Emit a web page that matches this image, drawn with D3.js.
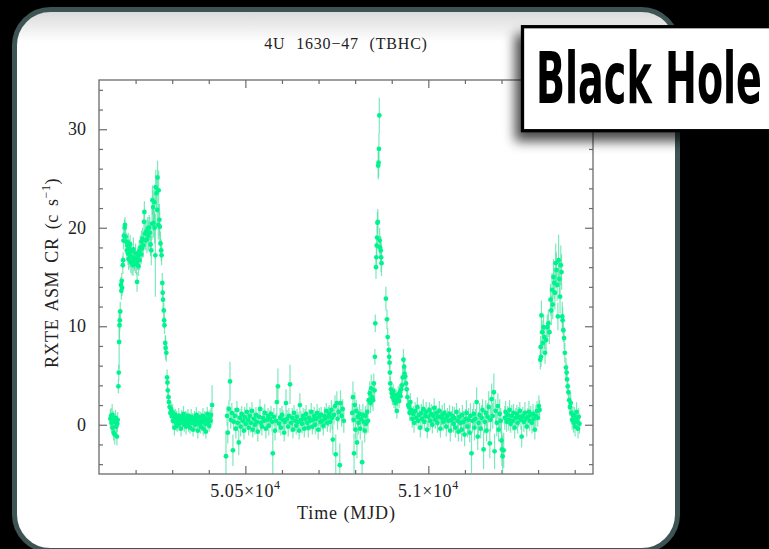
<!DOCTYPE html>
<html>
<head>
<meta charset="utf-8">
<script src="https://cdn.jsdelivr.net/npm/d3@7"></script>
<style>
  html, body { margin: 0; padding: 0; background: #000; }
  svg { display: block; }
</style>
</head>
<body>
<svg id="chart" width="769" height="549"></svg>
<script>
// RXTE ASM light curve of 4U 1630-47, points are [MJD, rate, error]
const quietEarly = [
  [50131,0.6,1.0],[50133,0.9,0.8],[50134,0.2,0.9],[50136,1.0,1.1],[50137,-0.3,0.8],
  [50139,0.5,0.9],[50140,-0.8,0.8],[50142,0.3,0.9],[50143,-1.0,1.0],[50145,0.7,0.8],
  [50146,0.4,0.7],[50147,-0.2,1.1],[50149,-1.2,0.9],[50150,0.1,0.8],[50151,0.5,0.8]
];
const burst1 = [
  [50153,3.9,0.7],[50154,5.3,0.8],[50155,8.4,2.8],[50156,10.1,1.4],[50157,10.6,1.0],
  [50158,11.5,1.0],[50160,14.2,0.8],[50161,13.6,0.9],[50162,14.6,0.8],[50163,13.9,0.8],
  [50165,16.2,0.9],[50166,16.7,0.8],[50167,18.7,0.9],[50168,19.2,0.8],[50170,20.0,0.9],
  [50171,20.3,0.8],[50173,19.1,1.0],[50174,18.6,0.9],[50176,17.7,0.9],[50177,18.2,1.0],
  [50179,17.4,1.2],[50180,18.5,1.0],[50181,16.8,1.1],[50183,17.9,0.9],[50184,17.2,1.3],
  [50185,18.3,1.0],[50187,16.5,1.1],[50188,17.6,1.0],[50190,16.4,1.2],[50191,17.0,1.0],
  [50193,16.2,1.1],[50194,17.8,1.2],[50196,16.6,1.0],[50197,16.9,1.1],[50199,16.3,0.9],
  [50200,17.4,1.0],[50202,16.4,1.2],[50204,14.5,1.0],[50205,16.8,1.1],[50207,17.2,0.9],
  [50208,16.1,1.0],[50210,17.6,1.1],[50211,16.7,1.0],[50213,18.0,1.2],[50215,17.3,1.0],
  [50216,18.6,1.1],[50218,17.9,1.0],[50219,18.9,1.1],[50221,18.2,1.2],[50223,20.6,1.0],
  [50224,21.6,1.1],[50226,19.4,1.3],[50227,18.7,1.0],[50229,19.6,1.2],[50231,18.8,1.4],
  [50233,19.9,1.2],[50235,19.2,1.5],[50237,20.0,1.3],[50239,19.5,1.6],[50241,18.3,1.2],
  [50243,17.7,1.5],[50245,20.4,1.6],[50246,22.8,1.5],[50248,22.1,1.7],[50249,20.5,1.5],
  [50251,22.6,1.8],[50252,20.0,1.6],[50254,17.2,4.2],[50255,24.1,1.8],[50257,23.5,1.6],
  [50259,21.8,1.7],[50260,25.1,1.7],[50262,20.3,1.5],[50263,23.8,2.0],[50265,20.8,1.6],
  [50266,20.1,1.5],[50268,18.4,1.2],[50270,17.7,1.1],[50271,17.2,1.0],[50273,14.4,1.0],
  [50274,13.4,0.9],[50275,12.7,0.9],[50277,11.6,0.8],[50278,10.6,0.8],[50279,10.1,0.9],
  [50281,8.3,0.8],[50282,7.8,1.2],[50284,7.3,0.9],[50286,4.8,0.8],[50287,4.3,0.7],
  [50288,3.5,0.7],[50290,2.8,0.7],[50291,2.3,0.6],[50293,1.8,0.7],[50295,1.2,0.6],
  [50297,1.6,0.7]
];
const tail1 = [
  [50299,0.9,0.7],[50301,1.3,0.8],[50302,0.4,0.6],[50304,0.8,0.7],[50306,-0.3,0.8],
  [50307,0.6,0.7],[50309,1.0,0.6],[50311,0.2,0.8],[50312,0.7,0.7],[50314,-0.1,0.6],
  [50316,0.5,0.7],[50318,0.9,0.8],[50319,0.1,0.7],[50321,0.6,0.6],[50323,0.3,0.7],
  [50324,-0.4,0.8],[50326,0.8,0.7],[50328,0.2,0.6],[50330,0.5,0.7],[50331,1.1,0.8],
  [50333,0.0,0.7],[50335,0.4,0.6],[50337,0.7,0.7],[50338,-0.2,0.8],[50340,0.6,0.7],
  [50342,0.3,0.6],[50343,0.9,0.7],[50345,0.1,0.8],[50347,0.5,0.7],[50349,-0.3,0.6],
  [50350,0.4,0.7],[50352,0.8,0.8],[50354,0.2,0.7],[50356,0.6,0.6],[50357,-0.5,0.7],
  [50359,0.3,0.8],[50361,0.7,0.7],[50363,0.0,0.6],[50364,0.5,0.7],[50366,1.0,0.8],
  [50368,0.2,0.7],[50370,-0.6,0.8],[50371,0.4,0.7],[50373,0.8,0.6],[50375,0.1,0.7],
  [50377,0.5,0.8],[50378,-0.2,0.7],[50380,0.6,0.6],[50382,0.3,0.7],[50384,0.9,0.8],
  [50385,-0.4,0.7],[50387,0.4,0.6],[50389,0.7,0.7],[50391,0.1,0.8],[50392,-0.7,0.7],
  [50394,0.5,0.6],[50396,1.1,0.7],[50398,0.3,0.8],[50399,0.6,0.7],[50401,-0.1,0.6],
  [50403,0.8,0.7],[50405,0.4,0.8],[50406,1.0,0.7],[50409,2.0,2.0]
];
const quiet2 = [
  [50447,-3.2,2.6],[50450,0.9,1.0],[50452,-0.8,1.1],[50455,1.6,0.9],[50458,4.4,2.0],
  [50460,0.5,0.9],[50463,1.2,1.0],[50466,-2.6,1.6],[50468,0.3,0.9],[50471,0.9,0.8],
  [50474,-0.4,1.0],[50477,1.5,0.9],[50479,0.2,0.8],[50482,-1.8,1.3],[50485,0.7,0.9],
  [50487,-0.2,1.0],[50490,1.1,0.8],[50493,0.4,0.9],[50496,-0.6,0.9],[50498,0.8,1.0],
  [50501,0.1,0.8],[50504,1.3,0.9],[50507,0.5,1.0],[50509,-0.3,0.8],[50512,0.9,0.9],
  [50515,0.2,1.0],[50518,1.4,0.9],[50520,-0.5,0.8],[50523,0.6,0.9],[50526,0.0,1.0],
  [50529,1.0,0.8],[50531,0.3,0.9],[50534,-0.7,1.0],[50537,0.8,0.9],[50540,1.6,1.0],
  [50542,0.2,0.8],[50545,-0.2,0.9],[50548,0.7,1.0],[50551,0.4,0.8],[50553,1.2,0.9],
  [50556,-0.4,1.0],[50559,0.5,0.9],[50562,0.9,0.8],[50564,-0.1,1.0],[50567,0.6,0.9],
  [50570,1.1,0.8],[50573,0.3,1.0],[50575,-2.9,2.2],[50578,0.8,0.9],[50581,-0.6,1.0],
  [50584,0.4,0.8],[50586,2.3,1.5],[50589,3.9,1.8],[50592,0.1,0.9],[50595,0.7,1.0],
  [50597,-0.3,0.8],[50600,1.0,0.9],[50603,0.5,1.0],[50606,-0.8,0.9],[50608,0.3,0.8],
  [50611,2.2,1.4],[50614,0.6,0.9],[50617,-0.2,1.0],[50619,0.9,0.8],[50622,4.1,2.0],
  [50625,0.2,0.9],[50628,0.7,1.0],[50630,-0.5,0.9],[50633,1.2,0.8],[50636,0.4,1.0],
  [50639,-0.1,0.9],[50641,0.8,0.8],[50644,0.3,1.0],[50647,-0.6,0.9],[50649,2.0,1.2],
  [50652,0.5,0.9],[50655,0.1,1.0],[50658,0.9,0.8],[50661,-0.4,0.9],[50663,0.6,1.0],
  [50666,1.1,0.9],[50669,0.2,0.8],[50672,-0.3,1.0],[50674,0.7,0.9],[50677,0.4,1.0],
  [50680,1.3,0.9],[50683,-0.2,0.8],[50685,0.5,1.0],[50688,0.9,0.9],[50691,0.0,1.0],
  [50694,0.6,0.8],[50696,1.2,0.9],[50699,-0.5,1.0],[50702,0.8,0.9],[50705,0.3,1.0],
  [50707,1.0,0.8],[50710,0.4,0.9],[50713,-0.1,1.0],[50716,0.9,0.9],[50718,0.6,1.0],
  [50721,1.4,0.8],[50724,0.2,0.9],[50727,0.8,1.0],[50729,1.1,0.9],[50732,0.3,1.1],
  [50735,1.5,1.0],[50737,0.7,1.2],[50739,-1.5,1.5],[50742,1.0,1.0],[50745,1.9,1.1],
  [50747,-3.0,2.0],[50750,2.2,1.2],[50752,0.6,1.1],[50755,1.3,1.0],[50758,-4.1,2.2],
  [50760,2.2,1.3],[50763,0.9,1.1],[50766,1.6,1.0],[50769,0.4,1.2]
];
const preBurst2 = [
  [50792,1.2,1.0],[50794,2.8,1.6],[50796,0.5,1.1],[50797,-2.9,2.0],[50799,2.0,1.3],
  [50801,-0.5,1.0],[50803,1.4,1.1],[50805,-1.8,1.6],[50807,0.8,1.0],[50809,0.2,1.2],
  [50812,1.1,1.0],[50814,-0.4,1.1],[50816,0.6,1.0],[50819,-3.8,2.2],[50821,1.0,1.1],
  [50823,0.3,1.0],[50826,-0.6,1.2],[50828,0.9,1.0],[50830,0.1,1.1],[50833,1.3,1.0],
  [50835,0.4,1.2],[50837,2.5,1.1],[50840,3.2,1.2],[50842,2.2,1.0],[50844,3.7,1.4],
  [50846,2.8,1.0],[50849,2.5,1.1],[50851,4.2,1.0],[50853,3.5,0.9]
];
const burst2 = [
  [50854,6.9,0.8],[50855,10.3,0.9],[50857,16.0,1.2],[50858,17.0,1.1],[50859,18.2,1.0],
  [50860,19.0,1.2],[50861,20.5,1.1],[50862,20.6,1.3],[50863,26.3,1.4],[50864,26.6,1.5],
  [50865,28.0,1.6],[50866,31.4,1.8],[50867,18.7,1.3],[50868,18.0,1.2],[50870,17.7,1.4],
  [50871,17.0,1.5],[50872,16.4,1.3],[50884,12.8,1.2],[50887,10.7,1.0],[50889,8.9,0.9],
  [50892,7.6,0.8],[50893,6.9,0.8],[50894,6.3,0.7],[50895,5.3,0.8],[50896,4.2,0.7],
  [50898,3.6,0.8],[50900,3.2,0.7],[50902,2.8,0.8],[50904,3.4,0.7],[50906,2.5,0.8],
  [50908,3.0,0.7],[50910,2.2,0.9],[50912,2.9,0.7],[50914,1.4,0.8],[50916,2.6,0.7],
  [50918,3.1,0.8],[50920,2.4,0.7],[50922,3.3,0.8],[50924,2.9,0.7],[50926,3.6,0.8],
  [50928,4.0,0.8],[50930,4.8,1.0],[50932,6.6,1.1],[50934,5.9,0.9],[50935,5.2,0.8],
  [50937,4.9,0.9],[50939,4.2,0.8],[50941,3.6,0.8],[50943,2.8,0.7],[50945,2.0,0.8],
  [50947,1.8,0.7],[50949,1.2,0.8],[50951,2.3,0.9]
];
const quiet3 = [
  [50953,1.5,0.8],[50956,0.6,0.9],[50959,1.1,0.8],[50961,0.2,1.0],[50964,1.4,0.9],
  [50967,0.7,0.8],[50970,1.8,1.0],[50972,0.4,0.9],[50975,1.0,0.8],[50978,-0.3,1.0],
  [50981,1.2,0.9],[50983,0.6,0.8],[50986,1.6,1.0],[50989,0.3,0.9],[50992,0.9,0.8],
  [50994,1.3,1.0],[50997,-0.5,0.9],[51000,0.8,1.0],[51003,1.5,0.8],[51005,0.4,0.9],
  [51008,1.1,1.0],[51011,0.0,0.9],[51014,0.9,0.8],[51016,1.7,1.0],[51019,0.5,0.9],
  [51022,1.2,0.8],[51025,0.2,1.0],[51027,0.8,0.9],[51030,1.4,1.0],[51033,-0.4,0.9],
  [51036,0.7,0.8],[51038,1.0,1.0],[51041,0.3,0.9],[51044,1.2,1.0],[51047,0.6,0.9],
  [51049,-0.2,1.0],[51052,0.9,0.8],[51055,0.4,1.0],[51058,1.1,0.9],[51060,-0.6,1.1],
  [51063,0.5,0.9],[51066,0.9,1.0],[51069,0.1,0.9],[51071,0.7,1.1],[51074,-0.3,1.0],
  [51077,1.3,0.9],[51080,0.4,1.1],[51082,-0.7,1.0],[51085,0.8,0.9],[51088,0.2,1.1],
  [51091,-0.5,1.2],[51093,1.0,1.0],[51096,0.3,1.1],[51099,-1.0,1.2],[51102,0.6,1.0],
  [51104,1.2,1.3],[51107,-0.2,1.1],[51110,0.5,1.2],[51113,-0.8,1.0],[51115,0.9,1.3],
  [51118,-2.9,2.0],[51121,0.4,1.2],[51124,1.1,1.1],[51126,-0.3,1.3],[51129,0.6,1.0],
  [51132,2.3,1.5],[51135,-1.2,1.4],[51137,0.2,1.1],[51140,1.0,1.2],[51143,-0.4,1.0],
  [51146,0.7,1.3],[51148,1.5,1.1],[51151,-2.5,2.0],[51154,0.3,1.2],[51157,1.2,1.3],
  [51159,-0.6,1.1],[51162,0.8,1.4],[51165,1.8,1.6],[51168,-1.9,1.5],[51170,0.5,1.2],
  [51173,2.6,1.6],[51176,0.9,1.3],[51179,3.3,1.9],[51181,-2.7,1.8],[51184,1.4,1.2],
  [51187,0.2,1.4],[51190,1.9,1.3],[51192,-0.5,1.2],[51195,1.1,1.5],[51198,0.4,1.3],
  [51200,-1.6,1.8],[51201,-2.5,1.7],[51203,-3.2,2.1],[51206,-2.6,1.8],[51209,0.7,1.2],
  [51211,1.3,1.1],[51214,0.3,1.0],[51217,1.0,0.9],[51220,0.5,1.1],[51222,1.5,1.0],
  [51225,0.1,0.9],[51228,0.9,1.1],[51231,0.4,1.0],[51233,1.2,0.9],[51236,-0.3,1.1],
  [51239,0.7,1.0],[51242,1.1,0.9],[51244,0.2,1.1],[51247,0.8,1.0],[51250,1.4,0.9],
  [51253,0.5,1.0],[51255,-1.2,1.1],[51258,0.9,0.9],[51261,0.3,1.0],[51264,1.2,1.1],
  [51266,0.6,0.9],[51269,-0.2,1.0],[51272,0.8,0.9],[51275,1.3,1.1],[51277,0.4,1.0],
  [51280,1.0,0.9],[51283,0.2,1.1],[51286,1.1,1.0],[51288,0.6,0.9],[51291,-0.5,1.0],
  [51294,0.9,1.1],[51297,1.4,1.0],[51299,0.7,0.9],[51302,1.9,1.1]
];
const burst3 = [
  [51304,1.5,1.0],[51306,6.6,1.0],[51307,7.9,1.1],[51308,6.9,1.0],[51309,11.1,1.5],
  [51311,9.4,1.2],[51313,8.3,1.1],[51315,9.9,1.3],[51317,8.9,1.2],[51319,7.3,1.1],
  [51322,8.6,1.2],[51325,9.9,1.3],[51328,10.3,1.4],[51331,9.4,1.2],[51334,12.7,1.6],
  [51336,11.6,1.5],[51338,13.7,1.7],[51340,12.2,1.5],[51342,15.0,1.8],[51344,14.4,1.6],
  [51346,13.4,1.7],[51348,16.4,2.0],[51350,15.7,1.8],[51352,14.2,1.6],[51354,11.0,1.4],
  [51356,16.7,2.6],[51358,14.8,1.9],[51360,13.0,1.7],[51362,16.2,2.0],[51364,15.5,1.8],
  [51366,11.0,1.5],[51367,10.6,1.3],[51369,9.6,1.2],[51371,8.8,1.1],[51373,7.3,1.0],
  [51376,5.8,1.0],[51378,5.3,0.9],[51379,4.6,1.0],[51381,3.9,0.9],[51383,3.3,0.9],
  [51385,2.5,1.0],[51387,1.8,0.9],[51389,2.2,1.0],[51391,1.2,0.9],[51393,0.5,1.0],
  [51395,1.0,0.9],[51397,0.2,1.0],[51399,0.9,0.9],[51401,-0.2,1.0],[51403,0.6,0.9],
  [51405,1.3,1.0],[51407,0.3,0.9],[51409,-0.4,1.0],[51411,0.8,0.9],[51413,0.1,1.0]
];

// axis ticks and labels
const xMajor = [50500, 51000];
const xMajorLabels = ["5.05×10", "5.1×10"];
const xExponent = "4";
const xMinor = [50200, 50300, 50400, 50600, 50700, 50800, 50900, 51100, 51200, 51300, 51400];
const yMajor = [0, 10, 20, 30];
const yMinor = [-4, -2, 2, 4, 6, 8, 12, 14, 16, 18, 22, 24, 26, 28, 32, 34];

const svg = d3.select("#chart");
const width = 769;
const height = 549;
const plot = { left: 99, right: 593, top: 80, bottom: 474 };
const axisColor = "#6b6b6b";
const serif = "'Liberation Serif', 'DejaVu Serif', serif";

const defs = svg.append("defs");

const panelFill = defs.append("linearGradient")
    .attr("id", "panelFill")
    .attr("x1", 0).attr("y1", 0).attr("x2", 0).attr("y2", 1);
panelFill.append("stop").attr("offset", "0%").attr("stop-color", "#d8d8d8");
panelFill.append("stop").attr("offset", "6%").attr("stop-color", "#ffffff");

const shadow = defs.append("filter")
    .attr("id", "boxShadow")
    .attr("x", "-20%").attr("y", "-30%")
    .attr("width", "140%").attr("height", "180%");
shadow.append("feDropShadow")
    .attr("dx", -6).attr("dy", 9)
    .attr("stdDeviation", 6)
    .attr("flood-color", "#000")
    .attr("flood-opacity", 0.7);

defs.append("clipPath").attr("id", "plotClip")
    .append("rect")
    .attr("x", plot.left).attr("y", plot.top)
    .attr("width", plot.right - plot.left)
    .attr("height", plot.bottom - plot.top);

// background and rounded panel
svg.append("rect").attr("width", width).attr("height", height).attr("fill", "#000");
svg.append("rect")
    .attr("x", 14.5).attr("y", 9.5)
    .attr("width", 663).attr("height", 541)
    .attr("rx", 36)
    .attr("fill", "url(#panelFill)")
    .attr("stroke", "#3e5454")
    .attr("stroke-width", 5);

const x = d3.scaleLinear().domain([50100, 51450]).range([plot.left, plot.right]);
const y = d3.scaleLinear().domain([-5, 35]).range([plot.bottom, plot.top]);

// ticks on all four sides, pointing inward
function drawTicks(makeAxis, scale, transform) {
    const sets = makeAxis === d3.axisBottom || makeAxis === d3.axisTop
        ? [[xMajor, 8], [xMinor, 4]]
        : [[yMajor, 8], [yMinor, 4]];
    sets.forEach(([vals, len]) => {
        svg.append("g")
            .attr("transform", transform)
            .call(makeAxis(scale).tickValues(vals).tickSize(-len).tickSizeOuter(0).tickFormat(""))
            .call(g => g.select(".domain").remove())
            .selectAll("line")
            .attr("stroke", axisColor)
            .attr("stroke-width", 1.2);
    });
}
drawTicks(d3.axisBottom, x, `translate(0,${plot.bottom})`);
drawTicks(d3.axisTop, x, `translate(0,${plot.top})`);
drawTicks(d3.axisLeft, y, `translate(${plot.left},0)`);
drawTicks(d3.axisRight, y, `translate(${plot.right},0)`);

// light curve
const points = d3.merge([quietEarly, burst1, tail1, quiet2, preBurst2, burst2, quiet3, burst3]);
const marks = svg.append("g").attr("clip-path", "url(#plotClip)");

marks.selectAll(".err")
    .data(points)
    .join("line")
    .attr("class", "err")
    .attr("x1", d => x(d[0]))
    .attr("x2", d => x(d[0]))
    .attr("y1", d => y(d[1] - d[2]))
    .attr("y2", d => y(d[1] + d[2]))
    .attr("stroke", "#4fe2a6")
    .attr("stroke-opacity", 0.75)
    .attr("stroke-width", 1.2);

marks.selectAll(".pt")
    .data(points)
    .join("circle")
    .attr("class", "pt")
    .attr("cx", d => x(d[0]))
    .attr("cy", d => y(d[1]))
    .attr("r", 2.4)
    .attr("fill", "#00f48e");

// frame
svg.append("rect")
    .attr("x", plot.left).attr("y", plot.top)
    .attr("width", plot.right - plot.left)
    .attr("height", plot.bottom - plot.top)
    .attr("fill", "none")
    .attr("stroke", axisColor)
    .attr("stroke-width", 1.3);

// tick labels
svg.selectAll(".ylab")
    .data(yMajor)
    .join("text")
    .attr("class", "ylab")
    .attr("x", plot.left - 13)
    .attr("y", d => y(d) + 6)
    .attr("text-anchor", "end")
    .attr("font-family", serif)
    .attr("font-size", "18px")
    .attr("fill", "#222")
    .text(d => d);

const xlab = svg.selectAll(".xlab")
    .data(xMajor)
    .join("text")
    .attr("class", "xlab")
    .attr("x", d => x(d))
    .attr("y", 497)
    .attr("text-anchor", "middle")
    .attr("font-family", serif)
    .attr("font-size", "18px")
    .attr("letter-spacing", "0.6px")
    .attr("fill", "#222");
xlab.append("tspan").text((d, i) => xMajorLabels[i]);
xlab.append("tspan").attr("dy", -8).attr("font-size", "12px").text(xExponent);

// axis titles
svg.append("text")
    .attr("x", (plot.left + plot.right) / 2)
    .attr("y", 519)
    .attr("text-anchor", "middle")
    .attr("font-family", serif)
    .attr("font-size", "18px")
    .attr("fill", "#222")
    .attr("textLength", 98)
    .attr("lengthAdjust", "spacing")
    .text("Time (MJD)");

const ylabel = svg.append("text")
    .attr("transform", "translate(58,273) rotate(-90)")
    .attr("text-anchor", "middle")
    .attr("font-family", serif)
    .attr("font-size", "18px")
    .attr("letter-spacing", "0.6px")
    .attr("word-spacing", "3px")
    .attr("fill", "#222");
ylabel.append("tspan").text("RXTE ASM CR (c s");
ylabel.append("tspan").attr("dy", -8).attr("font-size", "12px").text("−1");
ylabel.append("tspan").attr("dy", 8).text(")");

svg.append("text")
    .attr("x", (plot.left + plot.right) / 2)
    .attr("y", 49)
    .attr("text-anchor", "middle")
    .attr("font-family", serif)
    .attr("font-size", "16px")
    .attr("word-spacing", "6px")
    .attr("letter-spacing", "0.8px")
    .attr("fill", "#222")
    .text("4U 1630−47 (TBHC)");

// "Black Hole" tag, squeezed horizontally to a condensed look
svg.append("rect")
    .attr("x", 522.5).attr("y", 26.7)
    .attr("width", 270).attr("height", 104)
    .attr("fill", "#fff")
    .attr("stroke", "#000")
    .attr("stroke-width", 3.3)
    .attr("filter", "url(#boxShadow)");

const tag = svg.append("text")
    .attr("x", 0).attr("y", 0)
    .attr("font-family", "'DejaVu Sans', sans-serif")
    .attr("font-size", "72px")
    .attr("font-weight", "bold")
    .attr("fill", "#000")
    .text("Black Hole");
const tagWidth = tag.node().getComputedTextLength();
tag.attr("transform", `translate(536,103) scale(${226 / tagWidth},1)`);
</script>
</body>
</html>
